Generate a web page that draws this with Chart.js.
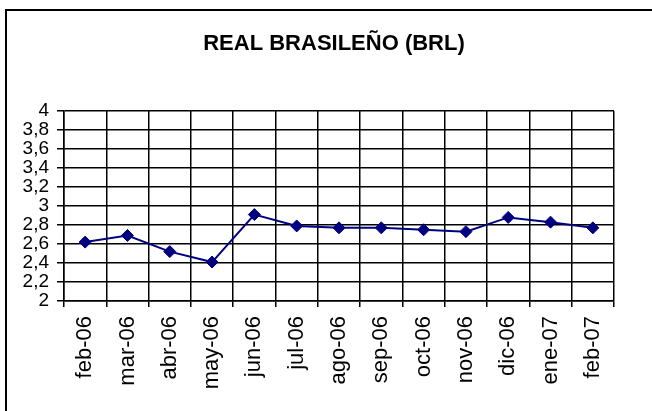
<!DOCTYPE html>
<html>
<head>
<meta charset="utf-8">
<script src="https://cdn.jsdelivr.net/npm/chart.js@4/dist/chart.umd.min.js"></script>
<style>
  html, body { margin: 0; padding: 0; background: #ffffff; }
  #wrap { width: 652px; height: 411px; position: relative; }
</style>
</head>
<body>
<div id="wrap"><canvas id="c" width="652" height="411"></canvas></div>
<script>
const categories = ["feb-06","mar-06","abr-06","may-06","jun-06","jul-06","ago-06","sep-06","oct-06","nov-06","dic-06","ene-07","feb-07"];
const brlValues = [2.62, 2.69, 2.52, 2.41, 2.91, 2.79, 2.77, 2.77, 2.75, 2.73, 2.88, 2.83, 2.77];
const yTicks = [2, 2.2, 2.4, 2.6, 2.8, 3, 3.2, 3.4, 3.6, 3.8, 4];
const chartTitle = "REAL BRASILEÑO (BRL)";

const FONT = "'Liberation Sans', Arial, sans-serif";

const frame = {
  id: 'frame',
  afterLayout(chart) {
    const t = chart.titleBlock;
    if (t) { t.left += 27; t.right += 27; }
  },
  beforeDraw(chart) {
    const ctx = chart.ctx;
    ctx.save();
    ctx.fillStyle = '#ffffff';
    ctx.fillRect(0, 0, chart.width, chart.height);
    ctx.strokeStyle = '#000000';
    ctx.lineWidth = 2;
    ctx.beginPath();
    ctx.moveTo(6, 411);
    ctx.lineTo(6, 10);
    ctx.lineTo(652, 10);
    ctx.stroke();
    ctx.restore();
  }
};

new Chart(document.getElementById('c'), {
  type: 'line',
  data: {
    labels: categories,
    datasets: [{
      label: 'BRL',
      data: brlValues,
      borderColor: '#000080',
      backgroundColor: '#000080',
      borderWidth: 2,
      pointStyle: 'rectRot',
      pointRadius: 6,
      pointBorderWidth: 1,
      pointBackgroundColor: '#000080',
      pointBorderColor: '#000080',
      tension: 0,
      fill: false
    }]
  },
  options: {
    responsive: false,
    animation: false,
    devicePixelRatio: 1,
    layout: { padding: { left: 0, right: 38, top: 0, bottom: 0 } },
    plugins: {
      legend: { display: false },
      tooltip: { enabled: false },
      title: {
        display: true,
        text: chartTitle,
        color: '#000000',
        font: { family: FONT, size: 22, weight: 'bold' },
        padding: { top: 31, bottom: 53.6 }
      }
    },
    scales: {
      x: {
        offset: true,
        grid: { offset: true, color: '#000000', lineWidth: 1.5, tickLength: 6, drawTicks: true },
        border: { color: '#000000', width: 1.5 },
        ticks: {
          color: '#000000',
          font: { family: FONT, size: 22 },
          minRotation: 90,
          maxRotation: 90,
          autoSkip: false,
          padding: 9
        },
        afterFit(scale) { scale.height = 110; }
      },
      y: {
        min: 2,
        max: 4,
        afterBuildTicks(scale) { scale.ticks = yTicks.map(v => ({ value: v })); },
        grid: { color: '#000000', lineWidth: 1.5, tickLength: 7 },
        border: { color: '#000000', width: 1.5 },
        ticks: {
          color: '#000000',
          font: { family: FONT, size: 19, lineHeight: 1 },
          autoSkip: false,
          padding: 8,
          callback: (v) => String(Number(v.toFixed(1))).replace('.', ',')
        },
        afterFit(scale) { scale.width = 64; }
      }
    }
  },
  plugins: [frame]
});
</script>
</body>
</html>
